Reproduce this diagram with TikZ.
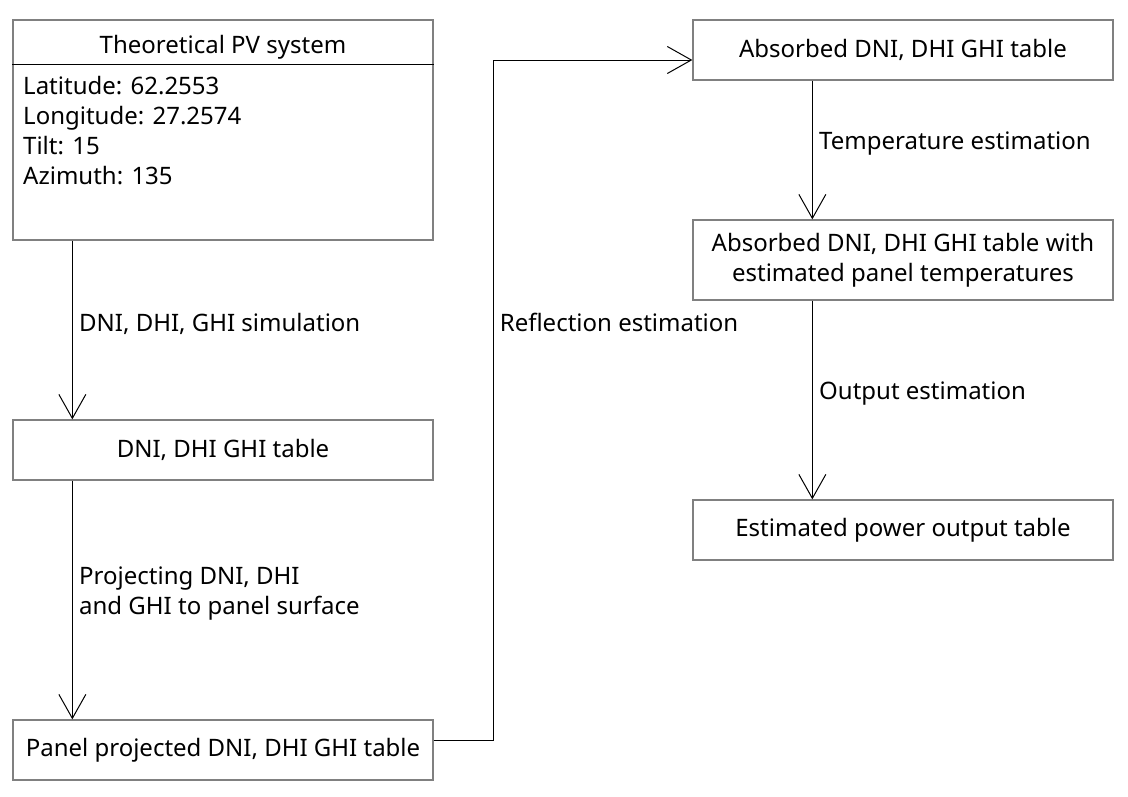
\documentclass[tikz,border=0pt]{standalone}
\usepackage{fontspec}
\setmainfont{Noto Sans}
\usetikzlibrary{positioning, arrows.meta}

\tikzset{
  box/.style={draw=gray, line width=1.3pt, minimum width=420pt, minimum height=60pt, inner sep=0pt, align=center},
  flow/.style={-{Straight Barb[length=24pt,width=27pt]}, line width=1pt},
  lbl/.style={right, xshift=3pt},
}

\begin{document}
\begin{tikzpicture}[x=1pt, y=-1pt, font=\fontsize{24}{30}\selectfont]
                \useasboundingbox (0,0) rectangle (1128,796);

                % left column
                \node[box, minimum height=220pt] (sys) at (223,130) {};
                \node (systitle) at (223,47) {Theoretical PV system};
                \draw [line width=1pt] ([yshift=-45pt]sys.north west) -- ([yshift=-45pt]sys.north east);
                \node[anchor=north west, align=left, inner sep=0pt] (sysparams) at (23,76)
                    {Latitude: 62.2553\\Longitude: 27.2574\\Tilt: 15\\Azimuth: 135};
                \node[box] (table) at (223,450) {DNI, DHI GHI table};
                \node[box] (proj) at (223,750) {Panel projected DNI, DHI GHI table};

                % right column
                \node[box] (absorbed) at (903,50) {Absorbed DNI, DHI GHI table};
                \node[box, minimum height=80pt] (temps) at (903,260) {Absorbed DNI, DHI GHI table with\\estimated panel temperatures};
                \node[box] (power) at (903,530) {Estimated power output table};

                \coordinate (bend) at (493,740);

                \draw [flow] ([xshift=60pt]sys.south west) -- node [lbl, midway, yshift=6pt] {DNI, DHI, GHI simulation} ([xshift=60pt]table.north west);
                \draw [flow] ([xshift=60pt]table.south west) -- node [lbl, midway, yshift=6pt, align=left] {Projecting DNI, DHI\\and GHI to panel surface} ([xshift=60pt]proj.north west);
                \draw [flow] ([yshift=10pt]proj.east) -- (bend) |- node [lbl, pos=0.307] {Reflection estimation} ([yshift=-10pt]absorbed.west);
                \draw [flow] ([xshift=120pt]absorbed.south west) -- node [lbl, midway, yshift=6pt] {Temperature estimation} ([xshift=120pt]temps.north west);
                \draw [flow] ([xshift=120pt]temps.south west) -- node [lbl, midway, yshift=6pt] {Output estimation} ([xshift=120pt]power.north west);
            \end{tikzpicture}
\end{document}
